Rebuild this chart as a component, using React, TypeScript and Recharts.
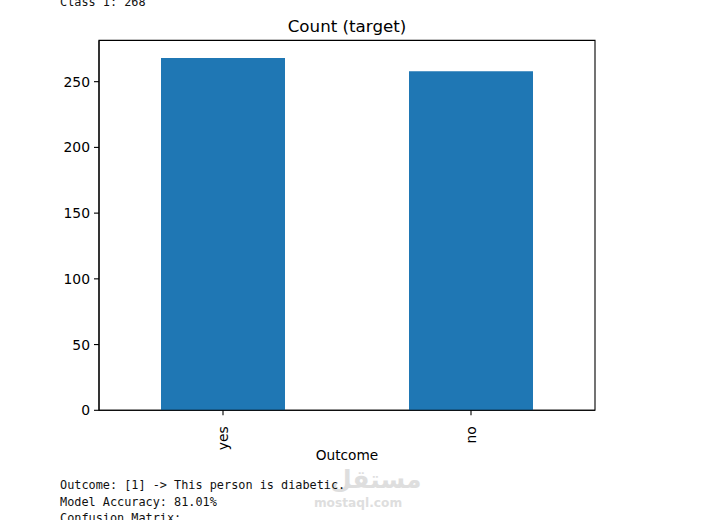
import React from "react";
import { BarChart, Bar, XAxis, YAxis, ReferenceArea } from "recharts";

const categories = ["yes", "no"];
const counts = [268, 258];
const yTicks = [0, 50, 100, 150, 200, 250];
const yMax = 281.4;
const chartTitle = "Count (target)";
const xTitle = "Outcome";
const consoleTop = "Class 1: 268";
const consoleBottom = ["Outcome: [1] -> This person is diabetic.", "Model Accuracy: 81.01%", "Confusion Matrix:"];

const rows = categories.map((name, i) => ({ name, count: counts[i] }));
const SANS = "'DejaVu Sans', sans-serif";
const MONO = "'DejaVu Sans Mono', monospace";

const RotTick = (p: any) => (
  <text
    x={p.x}
    y={p.y}
    transform={`rotate(-90 ${p.x} ${p.y})`}
    dx={-9}
    dy={5}
    textAnchor="end"
    fontFamily={SANS}
    fontSize={13.9}
    fill="#000"
  >
    {p.payload.value}
  </text>
);

const mono = (top: number, text: string) => (
  <div
    key={text}
    style={{
      position: "absolute",
      left: 60,
      top,
      fontFamily: MONO,
      fontSize: 11.85,
      lineHeight: "14px",
      whiteSpace: "pre",
      color: "#111",
    }}
  >
    {text}
  </div>
);

export default function App() {
  return (
    <div style={{ position: "absolute", left: 0, top: 0, width: 717, height: 520, overflow: "hidden", background: "#fff" }}>
      <BarChart
        width={717}
        height={520}
        data={rows}
        margin={{ top: 40.4, right: 122, bottom: 0, left: 0 }}
        barCategoryGap="25%"
      >
        <XAxis
          dataKey="name"
          height={109.7}
          interval={0}
          tick={<RotTick />}
          tickSize={5}
          tickLine={{ stroke: "#000", strokeWidth: 1.1 }}
          axisLine={{ stroke: "#000", strokeWidth: 1.1 }}
        />
        <YAxis
          width={99}
          domain={[0, yMax]}
          ticks={yTicks}
          tickSize={5}
          tickMargin={4}
          tickLine={{ stroke: "#000", strokeWidth: 1.1 }}
          axisLine={{ stroke: "#000", strokeWidth: 1.1 }}
          tick={{ fontFamily: SANS, fontSize: 13.9, fill: "#000" }}
        />
        <Bar dataKey="count" fill="#1f77b4" isAnimationActive={false} />
        <ReferenceArea y1={0} y2={yMax} fill="none" stroke="#000" strokeWidth={1.1} />
      </BarChart>
      <div style={{ position: "absolute", left: 99, width: 496, top: 16, textAlign: "center", fontFamily: SANS, fontSize: 16.7, lineHeight: "20px", color: "#000" }}>
        {chartTitle}
      </div>
      <div style={{ position: "absolute", left: 99, width: 496, top: 447, textAlign: "center", fontFamily: SANS, fontSize: 13.7, lineHeight: "16px", color: "#000" }}>
        {xTitle}
      </div>
      <div style={{ position: "absolute", left: 308, top: 462, width: 100, textAlign: "center", fontFamily: SANS, color: "#dedede", pointerEvents: "none" }}>
        <div style={{ fontSize: 25, lineHeight: "36px", fontWeight: 700, paddingLeft: 22 }}>مستقل</div>
        <div style={{ fontSize: 12.2, lineHeight: "14px", fontWeight: 700, marginTop: -2 }}>mostaql.com</div>
      </div>
      {mono(-5, consoleTop)}
      {consoleBottom.map((t, i) => mono(478 + i * 16.7, t))}
    </div>
  );
}
